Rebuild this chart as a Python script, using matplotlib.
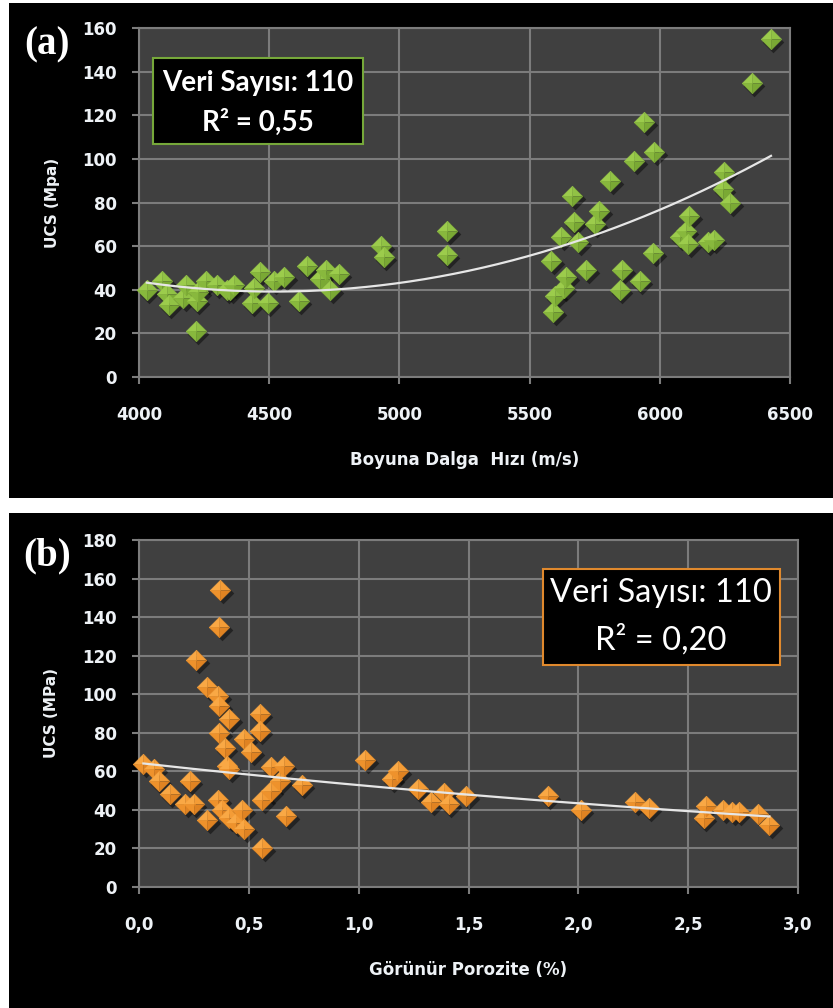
import numpy as np
import matplotlib
matplotlib.use("Agg")
import matplotlib.pyplot as plt
from matplotlib.patches import Rectangle
from matplotlib.ticker import FuncFormatter
from matplotlib import transforms

# ---- (a) UCS vs. P-wave velocity ----
vp_speed = [4030, 4090, 4106, 4115, 4170, 4181, 4218, 4222, 4228, 4258,
            4299, 4337, 4350, 4363, 4433, 4440, 4463, 4494, 4517, 4558,
            4613, 4645, 4696, 4719, 4735, 4767, 4930, 4940, 5183, 5181,
            5583, 5591, 5596, 5632, 5640, 5622, 5664, 5670, 5686, 5718,
            5750, 5767, 5810, 5847, 5855, 5901, 5923, 5940, 5975, 5978,
            6076, 6100, 6110, 6114, 6185, 6207, 6241, 6248, 6270, 6354,
            6427]
ucs_a = [40, 44, 38, 33, 36, 42, 21, 35, 39, 44,
         42, 40, 40, 42, 34, 41, 48, 34, 44, 46,
         35, 51, 45, 49, 40, 47, 60, 55, 67, 56,
         53, 30, 37, 41, 46, 64, 83, 71, 62, 49,
         70, 76, 90, 40, 49, 99, 44, 117, 57, 103,
         64, 67, 61, 74, 62, 63, 86, 94, 80, 135,
         155]

# ---- (b) UCS vs. apparent porosity ----
porosity = [0.02, 0.07, 0.09, 0.14, 0.21, 0.23, 0.25, 0.26, 0.31, 0.31,
            0.36, 0.36, 0.365, 0.365, 0.365, 0.37, 0.38, 0.39, 0.40, 0.41,
            0.41, 0.41, 0.44, 0.47, 0.48, 0.48, 0.51, 0.55, 0.55, 0.56,
            0.56, 0.60, 0.60, 0.64, 0.66, 0.67, 0.74, 1.03, 1.15, 1.18,
            1.27, 1.33, 1.39, 1.41, 1.49, 1.86, 2.01, 2.26, 2.32, 2.57,
            2.58, 2.66, 2.70, 2.73, 2.82, 2.87]
ucs_b = [64, 61, 55, 48, 43, 55, 43, 118, 104, 35,
         99, 45, 135, 94, 80, 154, 40, 72, 63, 61,
         87, 36, 33, 40, 30, 77, 70, 90, 81, 45,
         20, 62, 50, 55, 63, 37, 53, 66, 56, 60,
         51, 44, 49, 43, 47, 47, 40, 44, 41, 36,
         42, 40, 39, 39, 38, 32]

xticks_a = [4000, 4500, 5000, 5500, 6000, 6500]
yticks_a = list(range(0, 161, 20))
xticks_b = [0.0, 0.5, 1.0, 1.5, 2.0, 2.5, 3.0]
yticks_b = list(range(0, 181, 20))

W, H = 833, 1008
fig = plt.figure(figsize=(W / 100, H / 100), dpi=100, facecolor="white")


def fx(x):
    return x / W


def fy(y):
    return 1 - y / H


# black chart panels
for top, bottom in [(3, 498), (513, 1008)]:
    fig.patches.append(Rectangle((fx(9), fy(bottom)), 1 - fx(9), (bottom - top) / H,
                                 transform=fig.transFigure, facecolor="black",
                                 edgecolor="none", zorder=-5))

GRID = "#7c7c7c"
PLOT_BG = "#404040"
TXT = "#eef2f6"

# facet shades for the bevelled diamonds: top-left, top-right, bottom-left, bottom-right
GREEN = ["#9ccc4c", "#91c245", "#88b83d", "#7aa934"]
ORANGE = ["#f9a845", "#f49c36", "#ee922c", "#e08322"]

FACETS = [
    [(0, 0), (-1, 0), (0, 1)],
    [(0, 0), (0, 1), (1, 0)],
    [(0, 0), (-1, 0), (0, -1)],
    [(0, 0), (0, -1), (1, 0)],
]
DIAMOND = [(-1, 0), (0, 1), (1, 0), (0, -1)]
MS = 220


def diamonds(ax, xs, ys, shades):
    shadow_tr = transforms.offset_copy(ax.transData, fig=fig, x=2.5, y=-3, units="dots")
    ax.scatter(xs, ys, s=MS * 1.1, marker=DIAMOND, c="black", alpha=0.45,
               linewidths=0, transform=shadow_tr, zorder=2, clip_on=False)
    for x, y in zip(xs, ys):
        for verts, col in zip(FACETS, shades):
            ax.scatter([x], [y], s=MS, marker=verts, c=col, edgecolors=col,
                       linewidths=0.4, zorder=3, clip_on=False)


def style(ax, xticks, yticks, fmt):
    ax.set_facecolor(PLOT_BG)
    ax.set_xlim(xticks[0], xticks[-1])
    ax.set_ylim(yticks[0], yticks[-1])
    ax.set_xticks(xticks)
    ax.set_yticks(yticks)
    ax.xaxis.set_major_formatter(FuncFormatter(fmt))
    ax.grid(True, color=GRID, linewidth=1.5, zorder=1)
    ax.set_axisbelow(True)
    for sp in ax.spines.values():
        sp.set_color(GRID)
        sp.set_linewidth(1.5)
    ax.tick_params(axis="both", colors=GRID, length=5, width=1.5, direction="out",
                   labelcolor=TXT, labelsize=12)
    ax.tick_params(axis="y", pad=11)
    ax.tick_params(axis="x", pad=16)
    for lab in ax.get_xticklabels() + ax.get_yticklabels():
        lab.set_fontweight("bold")
        lab.set_family("DejaVu Sans")


def ax_rect(left, top, right, bottom):
    return [fx(left), fy(bottom), (right - left) / W, (bottom - top) / H]


def labels(ax, xlabel, ylabel, left, top, right, bottom, xlab_y):
    ax.set_xlabel(xlabel, color=TXT, fontsize=12, fontweight="bold")
    ax.set_ylabel(ylabel, color=TXT, fontsize=11, fontweight="bold")
    ax.yaxis.set_label_coords((52 - left) / (right - left), 0.5)
    ax.xaxis.set_label_coords(0.5, -(xlab_y - bottom) / (bottom - top))
    ax.yaxis.label.set_va("center")
    ax.xaxis.label.set_va("center")


# ---------- panel (a) ----------
ax1 = fig.add_axes(ax_rect(139, 28, 790, 377))
style(ax1, xticks_a, yticks_a, lambda v, p: f"{v:.0f}")
diamonds(ax1, vp_speed, ucs_a, GREEN)
va = np.array(vp_speed, float)
ua = np.array(ucs_a, float)
coef_a = np.polyfit(va, ua, 2)
xa = np.linspace(va.min(), va.max(), 300)
ax1.plot(xa, np.polyval(coef_a, xa), color="#e6e6e6", lw=1.6, zorder=5)
labels(ax1, "Boyuna Dalga  Hızı (m/s)", "UCS (Mpa)", 139, 28, 790, 377, 460)

# ---------- panel (b) ----------
ax2 = fig.add_axes(ax_rect(139, 540, 798, 887))
style(ax2, xticks_b, yticks_b, lambda v, p: f"{v:.1f}".replace(".", ","))
diamonds(ax2, porosity, ucs_b, ORANGE)
pb = np.array(porosity, float)
ub = np.array(ucs_b, float)
k_b, lna_b = np.polyfit(pb, np.log(ub), 1)
xb = np.linspace(pb.min(), pb.max(), 300)
ax2.plot(xb, np.exp(lna_b) * np.exp(k_b * xb), color="#e6e6e6", lw=1.6, zorder=5)
labels(ax2, "Görünür Porozite (%)", "UCS (MPa)", 139, 540, 798, 887, 970)

# ---------- panel letters ----------
fig.text(fx(47), fy(45), "(a)", family="Liberation Serif", fontweight="bold",
         fontsize=28, color="white", ha="center", va="center")
fig.text(fx(47), fy(556), "(b)", family="Liberation Serif", fontweight="bold",
         fontsize=28, color="white", ha="center", va="center")

# ---------- statistics boxes ----------
fig.patches.append(Rectangle((fx(153), fy(144)), (363 - 153) / W, (144 - 58) / H,
                             transform=fig.transFigure, facecolor="black",
                             edgecolor="#76a83a", linewidth=1.5, zorder=6))
fig.text(fx(258), fy(83), "Veri Sayısı: 110", family="Lato", fontweight="bold",
         fontsize=20, color="white", ha="center", va="center", zorder=7)
fig.text(fx(258), fy(122), "R² = 0,55", family="Lato", fontweight="bold",
         fontsize=20, color="white", ha="center", va="center", zorder=7)

fig.patches.append(Rectangle((fx(543), fy(665)), (780 - 543) / W, (665 - 569) / H,
                             transform=fig.transFigure, facecolor="black",
                             edgecolor="#e0892d", linewidth=1.5, zorder=6))
fig.text(fx(661), fy(593), "Veri Sayısı: 110", family="Lato",
         fontsize=23.5, color="white", ha="center", va="center", zorder=7)
fig.text(fx(661), fy(640), "R² = 0,20", family="Lato",
         fontsize=23.5, color="white", ha="center", va="center", zorder=7)

fig.savefig("out.png", dpi=100, facecolor="white")
